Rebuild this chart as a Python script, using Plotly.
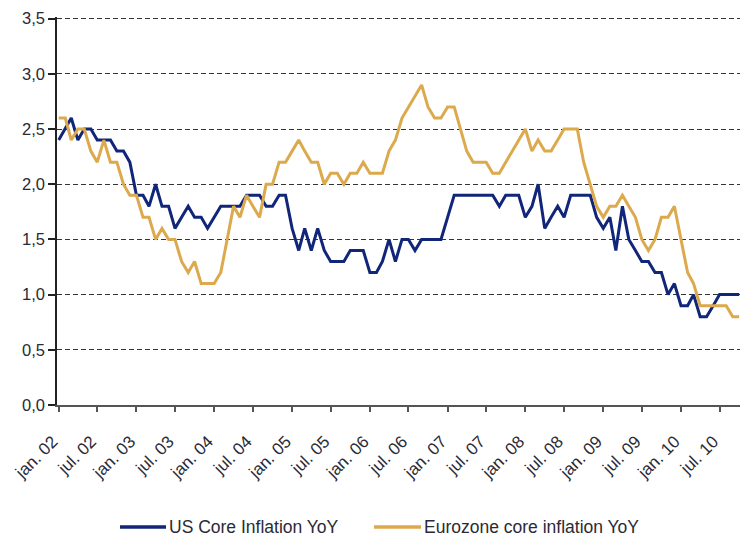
import pandas as pd
import plotly.graph_objects as go

# Monthly year-on-year core inflation, Jan 2002 onwards (%)
us_core = [
    2.4, 2.5, 2.6, 2.4, 2.5, 2.5, 2.4, 2.4, 2.4, 2.3, 2.3, 2.2,
    1.9, 1.9, 1.8, 2.0, 1.8, 1.8, 1.6, 1.7, 1.8, 1.7, 1.7, 1.6,
    1.7, 1.8, 1.8, 1.8, 1.8, 1.9, 1.9, 1.9, 1.8, 1.8, 1.9, 1.9,
    1.6, 1.4, 1.6, 1.4, 1.6, 1.4, 1.3, 1.3, 1.3, 1.4, 1.4, 1.4,
    1.2, 1.2, 1.3, 1.5, 1.3, 1.5, 1.5, 1.4, 1.5, 1.5, 1.5, 1.5,
    1.7, 1.9, 1.9, 1.9, 1.9, 1.9, 1.9, 1.9, 1.8, 1.9, 1.9, 1.9,
    1.7, 1.8, 2.0, 1.6, 1.7, 1.8, 1.7, 1.9, 1.9, 1.9, 1.9, 1.7,
    1.6, 1.7, 1.4, 1.8, 1.5, 1.4, 1.3, 1.3, 1.2, 1.2, 1.0, 1.1,
    0.9, 0.9, 1.0, 0.8, 0.8, 0.9, 1.0, 1.0, 1.0, 1.0,
]
ez_core = [
    2.6, 2.6, 2.4, 2.5, 2.5, 2.3, 2.2, 2.4, 2.2, 2.2, 2.0, 1.9,
    1.9, 1.7, 1.7, 1.5, 1.6, 1.5, 1.5, 1.3, 1.2, 1.3, 1.1, 1.1,
    1.1, 1.2, 1.5, 1.8, 1.7, 1.9, 1.8, 1.7, 2.0, 2.0, 2.2, 2.2,
    2.3, 2.4, 2.3, 2.2, 2.2, 2.0, 2.1, 2.1, 2.0, 2.1, 2.1, 2.2,
    2.1, 2.1, 2.1, 2.3, 2.4, 2.6, 2.7, 2.8, 2.9, 2.7, 2.6, 2.6,
    2.7, 2.7, 2.5, 2.3, 2.2, 2.2, 2.2, 2.1, 2.1, 2.2, 2.3, 2.4,
    2.5, 2.3, 2.4, 2.3, 2.3, 2.4, 2.5, 2.5, 2.5, 2.2, 2.0, 1.8,
    1.7, 1.8, 1.8, 1.9, 1.8, 1.7, 1.5, 1.4, 1.5, 1.7, 1.7, 1.8,
    1.5, 1.2, 1.1, 0.9, 0.9, 0.9, 0.9, 0.9, 0.8, 0.8,
]
months = pd.date_range("2002-01-01", periods=len(us_core), freq="MS")

tick_dates = pd.date_range("2002-01-01", "2010-07-01", freq="6MS")
tick_labels = [
    "jan. 02", "jul. 02", "jan. 03", "jul. 03", "jan. 04", "jul. 04",
    "jan. 05", "jul. 05", "jan. 06", "jul. 06", "jan. 07", "jul. 07",
    "jan. 08", "jul. 08", "jan. 09", "jul. 09", "jan. 10", "jul. 10",
]
series_names = ["US Core Inflation YoY", "Eurozone core inflation YoY"]

NAVY = "#112679"
GOLD = "#dca94d"
COLORS = [NAVY, GOLD]
FONT = "Liberation Sans, Arial, sans-serif"
TXT = "#2a2a35"

W, H = 740, 540
ML, MR, MT, MB = 57, 0, 17, 135
PW, PH = W - ML - MR, H - MT - MB


def px_to_paper(xp, yp):
    return (xp - ML) / PW, (H - MB - yp) / PH


fig = go.Figure()
for name, vals, col in zip(series_names, [us_core, ez_core], COLORS):
    fig.add_trace(go.Scatter(x=months, y=vals, mode="lines", name=name,
                             line=dict(color=col, width=3)))

# legend drawn below the plot, like the original (long line samples)
legend_y = 527
legend_items = [(120, 167), (374, 422)]  # sample start / text start in px
for (x0, x1), name, col in zip(legend_items, series_names, COLORS):
    ax0, ay = px_to_paper(x0, legend_y)
    ax1, _ = px_to_paper(x1 - 1, legend_y)
    fig.add_shape(type="line", xref="paper", yref="paper", x0=ax0, x1=ax1,
                  y0=ay, y1=ay, line=dict(color=col, width=3.5))
    tx, _ = px_to_paper(x1, legend_y)
    fig.add_annotation(xref="paper", yref="paper", x=tx, y=ay, text=name,
                       showarrow=False, xanchor="left", yanchor="middle",
                       font=dict(family=FONT, size=17.5, color=TXT))

fig.update_layout(
    width=W, height=H, autosize=False,
    margin=dict(l=ML, r=MR, t=MT, b=MB),
    paper_bgcolor="white", plot_bgcolor="white",
    separators=", ",
    font=dict(family=FONT, size=16.5, color=TXT),
    showlegend=False,
)
fig.update_xaxes(
    range=["2001-12-24", "2010-10-05"],
    tickvals=tick_dates, ticktext=tick_labels, tickangle=-45,
    showgrid=False, zeroline=False,
    showline=True, linecolor="#555555", linewidth=2,
    ticks="outside", ticklen=5, tickcolor="#555555", tickwidth=1.5,
    ticklabelstandoff=13, ticklabelshift=-6,
    tickfont=dict(family=FONT, size=17, color=TXT),
)
fig.update_yaxes(
    range=[0, 3.515], tickvals=[0, 0.5, 1.0, 1.5, 2.0, 2.5, 3.0, 3.5],
    tickformat=".1f",
    showgrid=True, gridcolor="#333333", gridwidth=1.4, griddash="5px,3px",
    zeroline=False,
    showline=True, linecolor="#222222", linewidth=1.5,
    ticks="outside", ticklen=7, tickcolor="#222222", tickwidth=1.5,
    tickfont=dict(family=FONT, size=16.5, color=TXT),
)

fig.write_html("out.html", config={"displayModeBar": False},
               post_script="document.body.style.margin='0';")
